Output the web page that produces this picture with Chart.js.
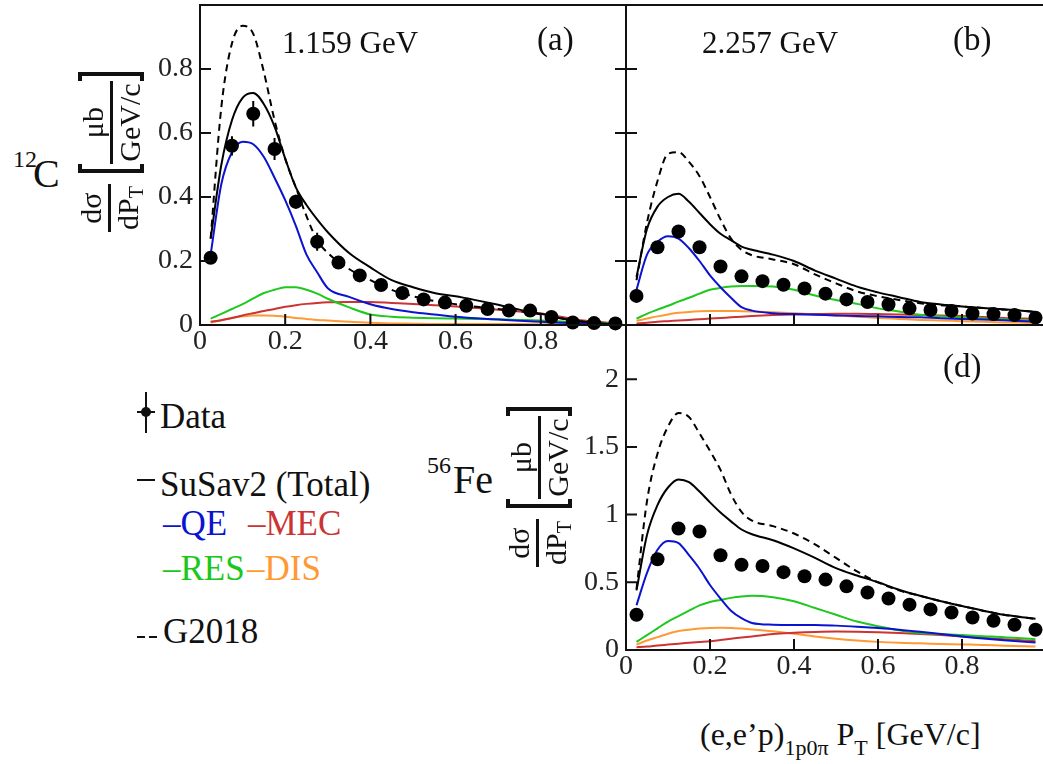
<!DOCTYPE html>
<html><head><meta charset="utf-8">
<script src="https://cdn.jsdelivr.net/npm/chart.js@4.4.1/dist/chart.umd.min.js"></script>
<style>
html,body{margin:0;padding:0;background:#fff;width:1043px;height:764px;overflow:hidden;position:relative;font-family:'Liberation Serif','Times New Roman',serif;color:#111}
canvas{position:absolute}
.t{position:absolute;white-space:nowrap;line-height:1}
.lg{font-size:35px}
.ann{font-size:31px}
.sym{position:absolute;background:#111}
.yt{position:absolute;width:160px;height:72px;display:flex;align-items:center;transform:rotate(-90deg);font-size:30px;line-height:1}
.frac{display:flex;flex-direction:column;align-items:center}
.frac .num{padding:0 2px 2px 2px}
.frac .den{border-top:3px solid #111;padding:2px 2px 0 2px}
.frac .den sub{font-size:20px;vertical-align:-0.25em}
.brk{width:7px;height:58px;border:4px solid #111}
.brk.l{border-right:none}
.brk.r{border-left:none}
.xt sub{font-size:22px;vertical-align:-0.45em}
</style></head><body>

<canvas id="cA" width="500" height="360" style="left:130px;top:0px"></canvas>
<canvas id="cB" width="426" height="330" style="left:620px;top:0px"></canvas>
<canvas id="cD" width="486" height="365" style="left:560px;top:320px"></canvas>

<!-- panel annotations -->
<div class="t ann" style="left:282px;top:27px">1.159 GeV</div>
<div class="t" style="left:537px;top:23px;font-size:33px">(a)</div>
<div class="t ann" style="left:702px;top:27px">2.257 GeV</div>
<div class="t" style="left:953px;top:23px;font-size:33px">(b)</div>
<div class="t" style="left:943px;top:350px;font-size:33px">(d)</div>

<!-- y titles -->
<div class="t" style="left:13px;top:147px;font-size:24px">12</div>
<div class="t" style="left:33px;top:154px;font-size:40px">C</div>
<div class="yt" style="left:31px;top:116px">
  <div class="frac" style="width:48px"><span class="num">dσ</span><span class="den">dP<sub>T</sub></span></div>
  <div style="width:14px"></div>
  <div class="brk l"></div>
  <div class="frac"><span class="num">μb</span><span class="den">GeV/c</span></div>
  <div class="brk r"></div>
</div>
<div class="t" style="left:427px;top:453px;font-size:24px">56</div>
<div class="t" style="left:453px;top:460px;font-size:40px">Fe</div>
<div class="yt" style="left:459px;top:451px">
  <div class="frac" style="width:48px"><span class="num">dσ</span><span class="den">dP<sub>T</sub></span></div>
  <div style="width:14px"></div>
  <div class="brk l"></div>
  <div class="frac"><span class="num">μb</span><span class="den">GeV/c</span></div>
  <div class="brk r"></div>
</div>

<!-- x title -->
<div class="t xt" style="left:700px;top:718px;font-size:32px">(e,e’p)<sub>1p0π</sub> P<sub>T</sub> [GeV/c]</div>

<!-- legend -->
<div class="sym" style="left:145px;top:392px;width:2px;height:41px"></div>
<div class="sym" style="left:137px;top:411px;width:18px;height:2px"></div>
<div class="sym" style="left:141px;top:407px;width:10px;height:10px;border-radius:50%"></div>
<div class="t lg" style="left:160px;top:399px">Data</div>
<div class="sym" style="left:137px;top:479px;width:18px;height:2px"></div>
<div class="t lg" style="left:160px;top:467px">SuSav2 (Total)</div>
<div class="t lg" style="left:163px;top:506px;color:#0b12d0">–QE</div>
<div class="t lg" style="left:248px;top:506px;color:#cc3333">–MEC</div>
<div class="t lg" style="left:163px;top:551px;color:#19c819">–RES</div>
<div class="t lg" style="left:247px;top:551px;color:#ff9933">–DIS</div>
<div class="sym" style="left:137px;top:636px;width:8px;height:2px"></div>
<div class="sym" style="left:149px;top:636px;width:8px;height:2px"></div>
<div class="t lg" style="left:163px;top:614px">G2018</div>

<script>
// ---------- data ----------
const pT = [0.025,0.075,0.125,0.175,0.225,0.275,0.325,0.375,0.425,0.475,0.525,0.575,0.625,0.675,0.725,0.775,0.825,0.875,0.925,0.975];
const dataA = [0.21,0.56,0.66,0.55,0.385,0.26,0.195,0.155,0.125,0.10,0.08,0.07,0.06,0.05,0.045,0.045,0.025,0.008,0.006,0.005];
const errA  = [0.01,0.03,0.04,0.034,0.022,0.028,0.02,0.015,0.012,0.01,0.009,0.008,0.008,0.007,0.007,0.007,0.006,0.005,0.004,0.004];
const dataB = [0.091,0.243,0.292,0.243,0.183,0.152,0.137,0.126,0.114,0.098,0.08,0.072,0.064,0.052,0.047,0.044,0.036,0.034,0.031,0.023];
const errB  = [0.008,0.012,0.012,0.01,0.008,0.007,0.006,0.006,0.005,0.005,0.005,0.004,0.004,0.004,0.004,0.004,0.003,0.003,0.003,0.003];
const dataD = [0.26,0.67,0.897,0.875,0.70,0.63,0.62,0.575,0.545,0.52,0.47,0.425,0.38,0.335,0.30,0.277,0.24,0.216,0.186,0.149];
const errD  = [0.02,0.03,0.035,0.035,0.03,0.025,0.025,0.02,0.02,0.02,0.02,0.018,0.016,0.015,0.014,0.013,0.012,0.012,0.011,0.01];

const curveX = [0.025,0.05,0.075,0.1,0.125,0.15,0.175,0.2,0.225,0.25,0.275,0.3,0.35,0.4,0.45,0.5,0.55,0.6,0.65,0.7,0.75,0.8,0.85,0.9,0.95,0.975];

const totalA = [0.27,0.5,0.64,0.71,0.725,0.69,0.62,0.52,0.43,0.375,0.33,0.29,0.225,0.18,0.14,0.118,0.1,0.09,0.077,0.063,0.048,0.035,0.02,0.01,0.004,0.002];
const g2018A = [0.27,0.68,0.88,0.935,0.91,0.79,0.64,0.52,0.43,0.34,0.265,0.225,0.175,0.14,0.11,0.09,0.075,0.065,0.057,0.05,0.043,0.033,0.02,0.01,0.004,0.002];
const qeA    = [0.22,0.44,0.54,0.573,0.565,0.525,0.46,0.39,0.31,0.22,0.165,0.115,0.088,0.065,0.05,0.04,0.033,0.026,0.021,0.017,0.013,0.01,0.007,0.005,0.004,0.003];
const resA   = [0.02,0.035,0.05,0.065,0.083,0.1,0.11,0.118,0.118,0.11,0.098,0.082,0.055,0.033,0.026,0.023,0.021,0.02,0.019,0.018,0.016,0.014,0.011,0.009,0.006,0.005];
const mecA   = [0.01,0.015,0.022,0.03,0.037,0.044,0.05,0.057,0.062,0.066,0.069,0.071,0.072,0.072,0.069,0.066,0.062,0.058,0.053,0.048,0.042,0.036,0.025,0.014,0.008,0.005];
const disA   = [0.008,0.015,0.022,0.027,0.03,0.03,0.029,0.026,0.022,0.019,0.016,0.014,0.01,0.007,0.005,0.004,0.003,0.003,0.003,0.003,0.003,0.002,0.002,0.002,0.002,0.002];

const totalB = [0.15,0.3,0.37,0.4,0.41,0.385,0.35,0.315,0.285,0.265,0.245,0.235,0.22,0.2,0.17,0.145,0.12,0.102,0.087,0.072,0.064,0.058,0.053,0.049,0.044,0.041];
const g2018B = [0.14,0.32,0.45,0.535,0.54,0.51,0.465,0.4,0.33,0.27,0.235,0.218,0.205,0.19,0.158,0.13,0.105,0.09,0.078,0.068,0.062,0.058,0.053,0.048,0.044,0.04];
const qeB    = [0.11,0.22,0.26,0.277,0.27,0.24,0.2,0.155,0.118,0.085,0.056,0.045,0.037,0.034,0.032,0.03,0.028,0.027,0.025,0.024,0.021,0.019,0.017,0.015,0.012,0.011];
const resB   = [0.02,0.035,0.048,0.06,0.073,0.085,0.098,0.11,0.116,0.12,0.122,0.122,0.12,0.11,0.092,0.078,0.066,0.052,0.042,0.032,0.027,0.024,0.021,0.018,0.015,0.014];
const mecB   = [0.005,0.007,0.01,0.012,0.014,0.016,0.018,0.02,0.022,0.024,0.026,0.028,0.031,0.033,0.034,0.035,0.035,0.034,0.033,0.031,0.03,0.028,0.025,0.022,0.02,0.018];
const disB   = [0.013,0.02,0.027,0.033,0.038,0.041,0.043,0.044,0.044,0.044,0.043,0.042,0.04,0.037,0.033,0.03,0.026,0.022,0.019,0.016,0.014,0.012,0.01,0.008,0.007,0.006];

const totalD = [0.44,0.85,1.07,1.2,1.26,1.24,1.17,1.09,1.015,0.95,0.89,0.855,0.81,0.75,0.68,0.605,0.55,0.5,0.445,0.4,0.36,0.325,0.29,0.26,0.24,0.23];
const g2018D = [0.45,1.1,1.45,1.65,1.75,1.72,1.6,1.47,1.33,1.15,1.02,0.955,0.915,0.86,0.78,0.68,0.58,0.5,0.44,0.4,0.36,0.325,0.29,0.26,0.24,0.228];
const qeD    = [0.33,0.57,0.74,0.805,0.79,0.7,0.6,0.48,0.38,0.29,0.235,0.2,0.187,0.185,0.185,0.18,0.172,0.162,0.15,0.135,0.118,0.1,0.085,0.072,0.06,0.055];
const resD   = [0.06,0.11,0.16,0.21,0.25,0.29,0.33,0.355,0.37,0.385,0.395,0.4,0.39,0.36,0.31,0.26,0.21,0.175,0.145,0.125,0.118,0.11,0.102,0.095,0.085,0.08];
const mecD   = [0.02,0.025,0.033,0.04,0.047,0.053,0.059,0.065,0.074,0.083,0.092,0.1,0.118,0.127,0.133,0.136,0.135,0.131,0.125,0.118,0.11,0.1,0.09,0.08,0.07,0.065];
const disD   = [0.04,0.07,0.095,0.12,0.14,0.15,0.158,0.163,0.165,0.163,0.158,0.152,0.138,0.12,0.1,0.083,0.07,0.06,0.053,0.049,0.045,0.041,0.037,0.032,0.028,0.025];

const xTickValues = [0,0.2,0.4,0.6,0.8];
const yTicksC  = [0,0.2,0.4,0.6,0.8];
const yTicksFe = [0,0.5,1,1.5,2];

// ---------- styling ----------
const FONT = "'Liberation Serif','Times New Roman',serif";
const COL = {total:'#000000', g2018:'#000000', qe:'#0b12d0', mec:'#cc3333', res:'#1ec81e', dis:'#ff9933'};

const framePlugin = {
  id: 'frame',
  afterDatasetsDraw(chart, args, opts) {
    const {ctx, chartArea: a} = chart;
    const x = chart.scales.x, y = chart.scales.y;
    ctx.save();
    if (opts.errors) {
      const meta = chart.getDatasetMeta(0);
      const vals = chart.data.datasets[0].data;
      ctx.strokeStyle = '#000'; ctx.lineWidth = 2;
      ctx.beginPath();
      meta.data.forEach((el, i) => {
        const v = vals[i].y, e = opts.errors[i];
        ctx.moveTo(el.x, y.getPixelForValue(v - e));
        ctx.lineTo(el.x, y.getPixelForValue(v + e));
      });
      ctx.stroke();
    }
    ctx.strokeStyle = '#111'; ctx.lineWidth = 2;
    ctx.strokeRect(a.left, a.top, a.right - a.left, a.bottom - a.top);
    const tl = 11;
    ctx.beginPath();
    x.ticks.forEach(t => { const p = x.getPixelForValue(t.value); ctx.moveTo(p, a.bottom); ctx.lineTo(p, a.bottom - tl); });
    y.ticks.forEach(t => {
      const p = y.getPixelForValue(t.value);
      ctx.moveTo(a.left, p); ctx.lineTo(a.left + tl, p);
      if (opts.mirror) { ctx.moveTo(a.right, p); ctx.lineTo(a.right - tl, p); }
    });
    ctx.stroke();
    ctx.restore();
  }
};

function pts(xs, ys) { return xs.map((x, i) => ({x: x, y: ys[i]})); }
function curve(ys, color, dashed) {
  return {type:'scatter', data: pts(curveX, ys), showLine: true, borderColor: color, backgroundColor: color,
    borderWidth: 2, borderDash: dashed ? [7,5] : [], pointRadius: 0, cubicInterpolationMode: 'monotone', fill: false};
}
function dataSet(ys) {
  return {type:'scatter', data: pts(pT, ys), showLine: false, pointRadius: 7, pointHoverRadius: 7,
    backgroundColor: '#000', borderWidth: 0, clip: false};
}
function noPad(s) { s.paddingTop = 0; s.paddingBottom = 0; s.paddingLeft = 0; s.paddingRight = 0; }

function makePanel(id, c) {
  return new Chart(document.getElementById(id), {
    type: 'scatter',
    data: { datasets: [
      dataSet(c.data),
      curve(c.total, COL.total, false),
      curve(c.g2018, COL.g2018, true),
      curve(c.qe, COL.qe, false),
      curve(c.res, COL.res, false),
      curve(c.mec, COL.mec, false),
      curve(c.dis, COL.dis, false)
    ]},
    options: {
      responsive: false, animation: false, events: [],
      layout: { autoPadding: false, padding: { top: c.padTop, right: c.padRight, left: 0, bottom: 0 } },
      plugins: { legend: {display:false}, tooltip: {enabled:false}, frame: { mirror: c.mirror, errors: c.err } },
      scales: {
        x: { type:'linear', min:0, max:1,
          grid:{display:false, drawTicks:false}, border:{display:false},
          afterBuildTicks: s => { s.ticks = xTickValues.map(v => ({value: v})); },
          afterFit: s => { s.height = c.xh; noPad(s); },
          ticks: { display: c.xLabels, autoSkip:false, maxRotation:0, padding:0, color:'#222',
                   font:{family:FONT, size:28}, callback: v => String(v) } },
        y: { type:'linear', min:0, max:c.ymax,
          grid:{display:false, drawTicks:false}, border:{display:false},
          afterBuildTicks: s => { s.ticks = c.yTicks.map(v => ({value: v})); },
          afterFit: s => { s.width = c.yw; noPad(s); },
          ticks: { display: c.yLabels, autoSkip:false, padding:7, color:'#222',
                   font:{family:FONT, size:28}, callback: v => String(v) } }
      }
    },
    plugins: [framePlugin]
  });
}

makePanel('cA', {data:dataA, err:errA, total:totalA, g2018:g2018A, qe:qeA, res:resA, mec:mecA, dis:disA,
  ymax:1.0, yTicks:yTicksC, xLabels:true, yLabels:true, xh:35, yw:70, padTop:5, padRight:4, mirror:true});
makePanel('cB', {data:dataB, err:errB, total:totalB, g2018:g2018B, qe:qeB, res:resB, mec:mecB, dis:disB,
  ymax:1.0, yTicks:yTicksC, xLabels:false, yLabels:false, xh:5, yw:6, padTop:5, padRight:0, mirror:false});
makePanel('cD', {data:dataD, err:errD, total:totalD, g2018:g2018D, qe:qeD, res:resD, mec:mecD, dis:disD,
  ymax:2.4, yTicks:yTicksFe, xLabels:true, yLabels:true, xh:35, yw:66, padTop:5, padRight:0, mirror:false});
</script>
</body></html>
